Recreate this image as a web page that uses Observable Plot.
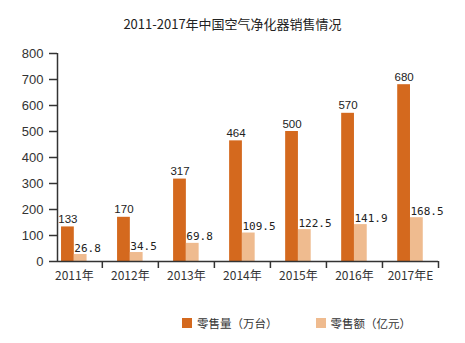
<!DOCTYPE html>
<html>
<head>
<meta charset="utf-8">
<script src="https://cdn.jsdelivr.net/npm/d3@7"></script>
<script src="https://cdn.jsdelivr.net/npm/@observablehq/plot@0.6"></script>
<style>
  body { margin: 0; background: #fff; width: 465px; height: 343px; overflow: hidden; font-family: "Noto Sans CJK SC", "Liberation Sans", sans-serif; }
  #title { height: 40px; box-sizing: border-box; padding-top: 16px; line-height: 16px; text-align: center; font-size: 13px; color: #222; }
  #legend { display: flex; align-items: center; padding-left: 182px; margin-top: 16px; font-size: 11.5px; color: #333; height: 14px; }
  .item { display: flex; align-items: center; }
  .sw { width: 10px; height: 10px; margin-right: 5px; }
</style>
</head>
<body>
<div id="title">2011-2017年中国空气净化器销售情况</div>
<div id="chart"></div>
<div id="legend"></div>
<script>
const years = ["2011年", "2012年", "2013年", "2014年", "2015年", "2016年", "2017年E"];
const volume = [133, 170, 317, 464, 500, 570, 680];       // 零售量（万台）
const sales = [26.8, 34.5, 69.8, 109.5, 122.5, 141.9, 168.5]; // 零售额（亿元）
const yTicks = [0, 100, 200, 300, 400, 500, 600, 700, 800];
const seriesNames = ["零售量（万台）", "零售额（亿元）"];
const colors = ["#d4691e", "#efbb8f"];

const barW = 0.228;
const rows = years.map((y, i) => ({i, year: y, volume: volume[i], sales: sales[i]}));

const chart = Plot.plot({
  width: 465,
  height: 260,
  marginTop: 13,
  marginBottom: 39,
  marginLeft: 57,
  marginRight: 27,
  style: {fontFamily: "'Liberation Sans', Arial, sans-serif", color: "#333", background: "#fff"},
  x: {type: "linear", domain: [-0.3, 6.5]},
  y: {domain: [0, 800]},
  marks: [
    Plot.rectY(rows, {x1: d => d.i - barW, x2: d => d.i, y: "volume", fill: colors[0]}),
    Plot.rectY(rows, {x1: d => d.i, x2: d => d.i + barW, y: "sales", fill: colors[1]}),
    Plot.text(rows, {x: d => d.i - barW / 2, y: "volume", text: d => String(d.volume), lineAnchor: "bottom", dy: -4, fontSize: 11.5, fill: "#222"}),
    Plot.text(rows, {x: d => d.i, y: "sales", text: d => d.sales.toFixed(1), textAnchor: "start", lineAnchor: "bottom", dy: -3, fontSize: 11, fontFamily: "'DejaVu Sans Mono', monospace", fill: "#222"}),
    Plot.axisY({ticks: yTicks, tickSize: 8, tickPadding: 6, fontSize: 13, label: null, stroke: "#333", strokeWidth: 1.5, color: "#333"}),
    Plot.axisX({ticks: d3.range(years.length).map(i => i + 0.5), tickSize: 7, tickFormat: () => "", label: null, strokeWidth: 1.5, stroke: "#333"}),
    Plot.axisX({ticks: d3.range(years.length), tickSize: 0, tickPadding: 10, tickFormat: i => years[i], fontSize: 12, label: null, fontFamily: "'Noto Sans CJK SC', sans-serif"}),
    Plot.ruleY([0], {stroke: "#333", strokeWidth: 1.5}),
    Plot.ruleX([-0.3], {stroke: "#333", strokeWidth: 1.5})
  ]
});
document.getElementById("chart").appendChild(chart);

const legend = document.getElementById("legend");
seriesNames.forEach((name, k) => {
  const item = document.createElement("div");
  item.className = "item";
  if (k > 0) item.style.marginLeft = "38px";
  const sw = document.createElement("div");
  sw.className = "sw";
  sw.style.background = colors[k];
  const t = document.createElement("span");
  t.textContent = name;
  item.appendChild(sw);
  item.appendChild(t);
  legend.appendChild(item);
});
</script>
</body>
</html>
